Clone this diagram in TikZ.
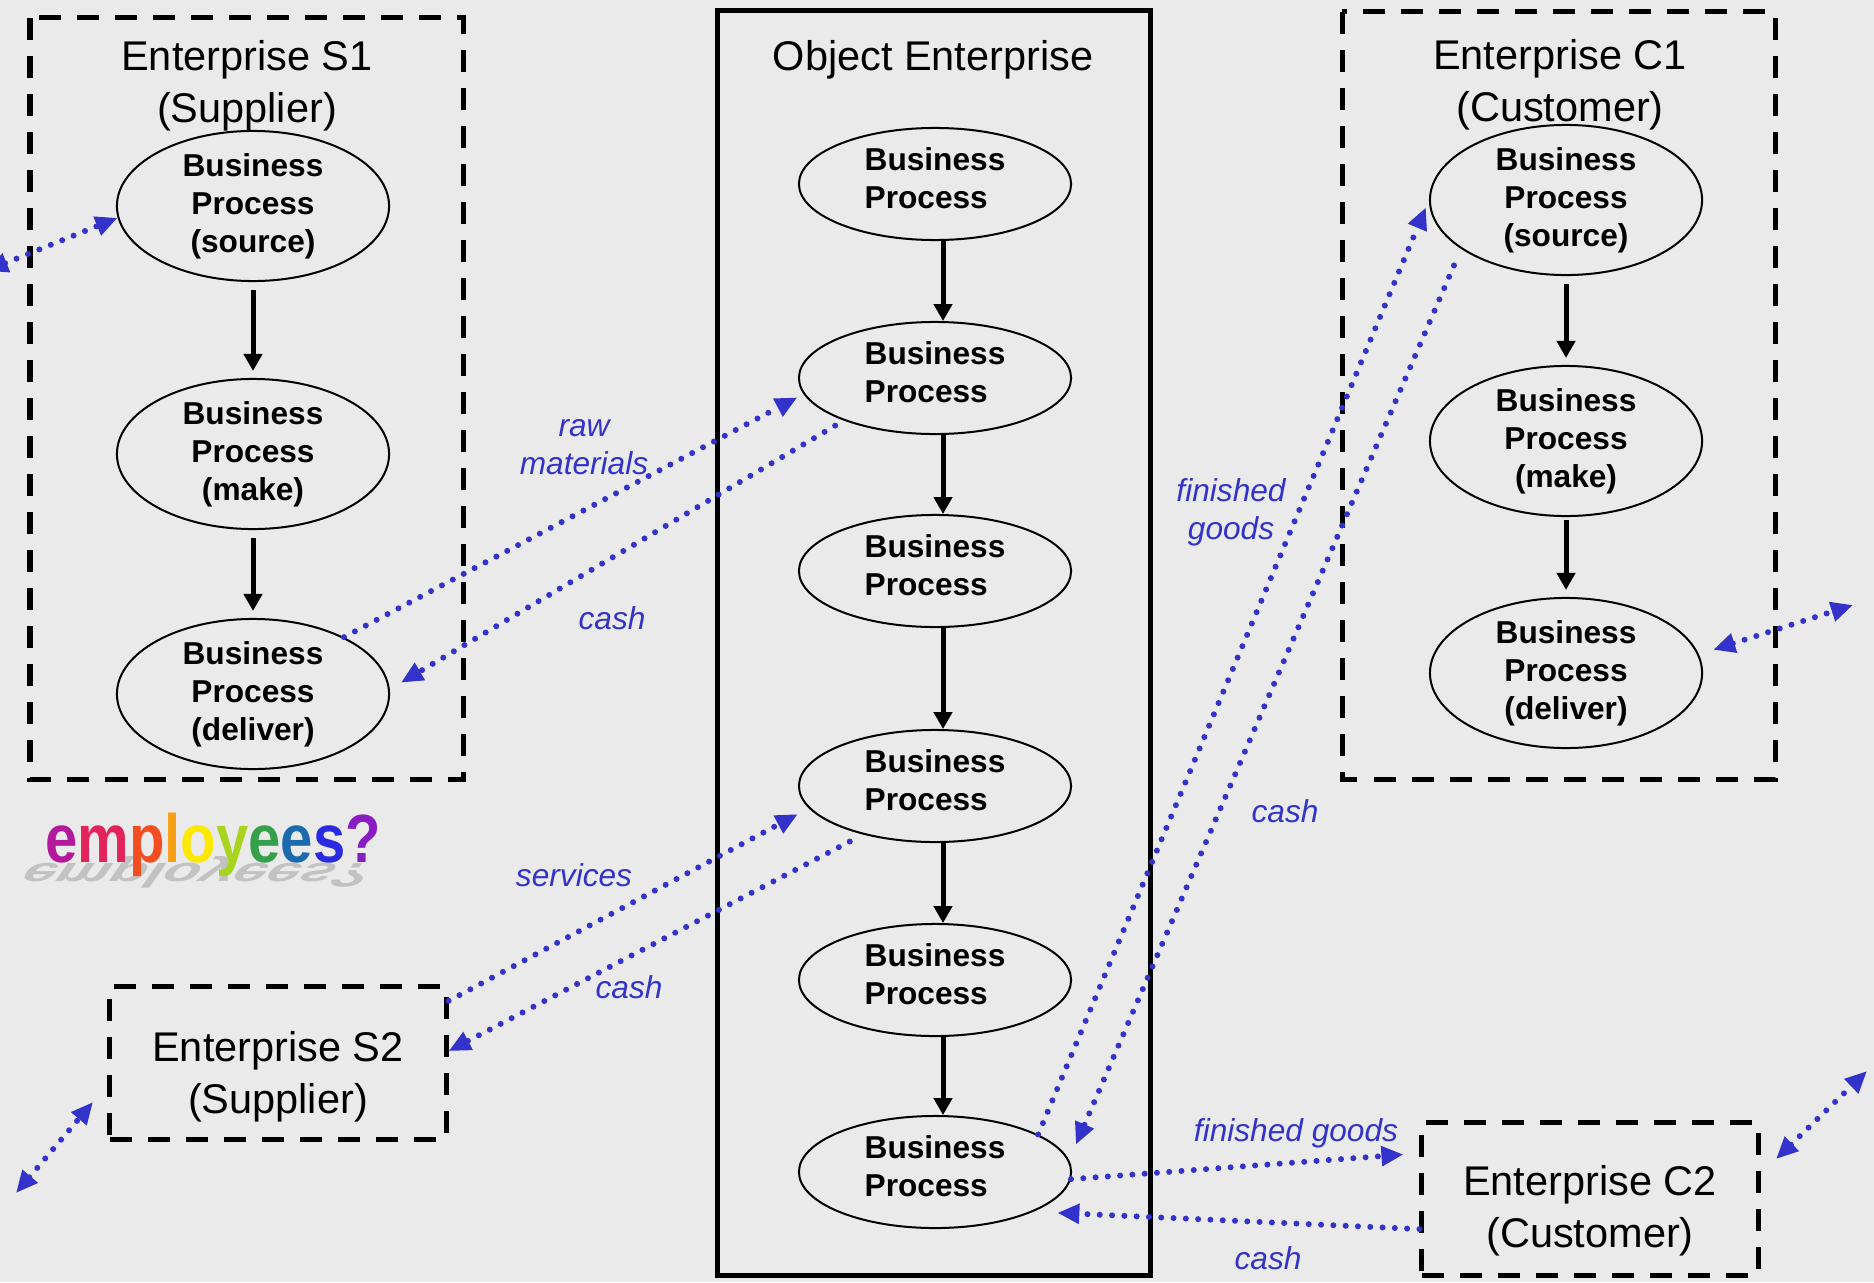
\documentclass[tikz,border=0pt]{standalone}
\usepackage{fontspec}
\setmainfont{Liberation Sans}
\usetikzlibrary{arrows.meta,shapes.geometric}
\definecolor{bggray}{HTML}{EAEAEA}
\definecolor{flowblue}{HTML}{3333CC}
\definecolor{shadowgray}{HTML}{C2C2C2}
\definecolor{rbA}{HTML}{B4189C}
\definecolor{rbB}{HTML}{E3245A}
\definecolor{rbC}{HTML}{F24E22}
\definecolor{rbD}{HTML}{F7A014}
\definecolor{rbE}{HTML}{FCE800}
\definecolor{rbF}{HTML}{A8D420}
\definecolor{rbG}{HTML}{35A04A}
\definecolor{rbH}{HTML}{1C6AAE}
\definecolor{rbI}{HTML}{2A2AE0}
\definecolor{rbJ}{HTML}{8A1CC4}
\newcommand{\empfont}{\fontsize{19.4}{22}\selectfont\bfseries}
\newcommand{\rainbowword}{{\color{rbA}e}{\color{rbB}m}{\color{rbC}p}{\color{rbD}l}{\color{rbE}o}{\color{rbF}y}{\color{rbG}e}{\color{rbH}e}{\color{rbI}s}{\color{rbJ}?}}
\begin{document}
\begin{tikzpicture}[x=0.01cm,y=-0.01cm,>={Triangle[length=0.22cm,width=0.19cm]},
    proc/.style={draw,ellipse,line width=0.02cm,inner sep=0pt,minimum width=2.72cm,align=center,font=\fontsize{9}{10.8}\selectfont\bfseries},
    stage/.style={proc,minimum height=1.5cm},
    chainproc/.style={proc,minimum height=1.12cm},
    chaintext/.style={align=left,font=\fontsize{9}{10.8}\selectfont\bfseries,yshift=0.06cm},
    entbox/.style={draw,line width=0.05cm,dash pattern=on 0.22cm off 0.16cm},
    enttitle/.style={align=center,font=\fontsize{11.8}{14.7}\selectfont},
    flow/.style={line width=0.05cm,-{Triangle[length=0.17cm,width=0.18cm]}},
    trade/.style={flowblue,line width=0.06cm,line cap=round,dash pattern=on 0pt off 0.123cm},
    tag/.style={text=flowblue,align=center,font=\fontsize{9}{10.8}\selectfont\itshape}]

    \useasboundingbox (0,0) rectangle (1874,1282);
    \fill[bggray] (0,0) rectangle (1874,1282);

    \draw[entbox] (30,18) rectangle (463,779);
    \draw[line width=0.05cm] (717,11) rectangle (1150,1275);
    \draw[entbox] (1342,12) rectangle (1775,779);

    \node[enttitle] (s1title) at (247,86) {Enterprise S1\\(Supplier)};
    \node[enttitle] (objtitle) at (933,60) {Object Enterprise};
    \node[enttitle] (c1title) at (1560,85) {Enterprise C1\\(Customer)};

    \node[stage] (s1src) at (253,206) {Business\\Process\\(source)};
    \node[stage] (s1mk) at (253,454) {Business\\Process\\(make)};
    \node[stage] (s1del) at (253,694) {Business\\Process\\(deliver)};
    \draw[flow,shorten <=0.08cm,shorten >=0.07cm] (s1src) -- (s1mk);
    \draw[flow,shorten <=0.08cm,shorten >=0.07cm] (s1mk) -- (s1del);

    \foreach \y [count=\i] in {184,378,571,786,980,1172}
        \node[chainproc,label={[chaintext]center:Business\\Process}] (bp\i) at (935,\y) {};
    \foreach \a/\b in {bp1/bp2,bp2/bp3,bp3/bp4,bp4/bp5,bp5/bp6}
        \draw[flow] (\a.278) -- (\b.82);

    \node[stage] (c1src) at (1566,200) {Business\\Process\\(source)};
    \node[stage] (c1mk) at (1566,441) {Business\\Process\\(make)};
    \node[stage] (c1del) at (1566,673) {Business\\Process\\(deliver)};
    \draw[flow,shorten <=0.08cm,shorten >=0.07cm] (c1src) -- (c1mk);
    \draw[flow,shorten <=0.03cm,shorten >=0.07cm] (c1mk) -- (c1del);

    \node[entbox,minimum width=3.36cm,minimum height=1.52cm,label={[enttitle,yshift=-0.14cm]center:Enterprise S2\\(Supplier)}] (s2) at (278,1063) {};
    \node[entbox,minimum width=3.36cm,minimum height=1.52cm,label={[enttitle,yshift=-0.12cm]center:Enterprise C2\\(Customer)}] (c2) at (1590,1199) {};

    \begin{scope}[shift={(30,863)},cm={0.88,0,-0.35,-0.5,(0,0)}]
        \node[anchor=base west,inner sep=0pt,transform shape,text=shadowgray,font=\empfont] (empshade) at (0,0) {employees?};
    \end{scope}
    \begin{scope}[shift={(45,862)},xscale=0.85]
        \node[anchor=base west,inner sep=0pt,transform shape,font=\empfont] (empword) at (0,0) {\rainbowword};
    \end{scope}

    \coordinate (s1out) at (-14,271);
    \coordinate (s2out) at (16,1193);
    \coordinate (s2in) at (93,1102);
    \coordinate (c1out) at (1853,605);
    \coordinate (c2in) at (1776,1159);
    \coordinate (c2out) at (1867,1071);

    \draw[trade,<->] (s1out) -- (s1src.185);
    \draw[trade,->,shorten >=0.07cm] (s1del.32) -- (bp2.187);
    \draw[trade,->,shorten <=0.1cm,shorten >=0.13cm] (bp2.205) -- (s1del.2);
    \draw[trade,->,shorten >=0.125cm] (s2.20) -- (bp4.190);
    \draw[trade,->,shorten <=0.15cm] (bp4.214) -- (s2.4);
    \draw[trade,<->] (s2out) -- (s2in);
    \draw[trade,->,shorten >=0.08cm] (bp6.20) -- (c1src.west);
    \draw[trade,->,shorten <=0.18cm,shorten >=0.17cm] (c1src.205) -- (bp6.5);
    \draw[trade,<->,shorten <=0.15cm] (c1del.8) -- (c1out);
    \draw[trade,->,shorten >=0.16cm] (bp6.-3) -- (c2.165);
    \draw[trade,->,shorten >=0.24cm] (c2.190) -- (bp6.338);
    \draw[trade,<->] (c2in) -- (c2out);

    \node[tag] (rawlbl) at (584,447) {raw\\materials};
    \node[tag] (cashA) at (612,618) {cash};
    \node[tag] (servlbl) at (574,875) {services};
    \node[tag] (cashB) at (629,987) {cash};
    \node[tag] (goodsA) at (1231,512) {finished\\goods};
    \node[tag] (cashC) at (1285,811) {cash};
    \node[tag] (goodsB) at (1296,1133) {finished goods};
    \node[tag] (cashD) at (1268,1258) {cash};
\end{tikzpicture}
\end{document}
